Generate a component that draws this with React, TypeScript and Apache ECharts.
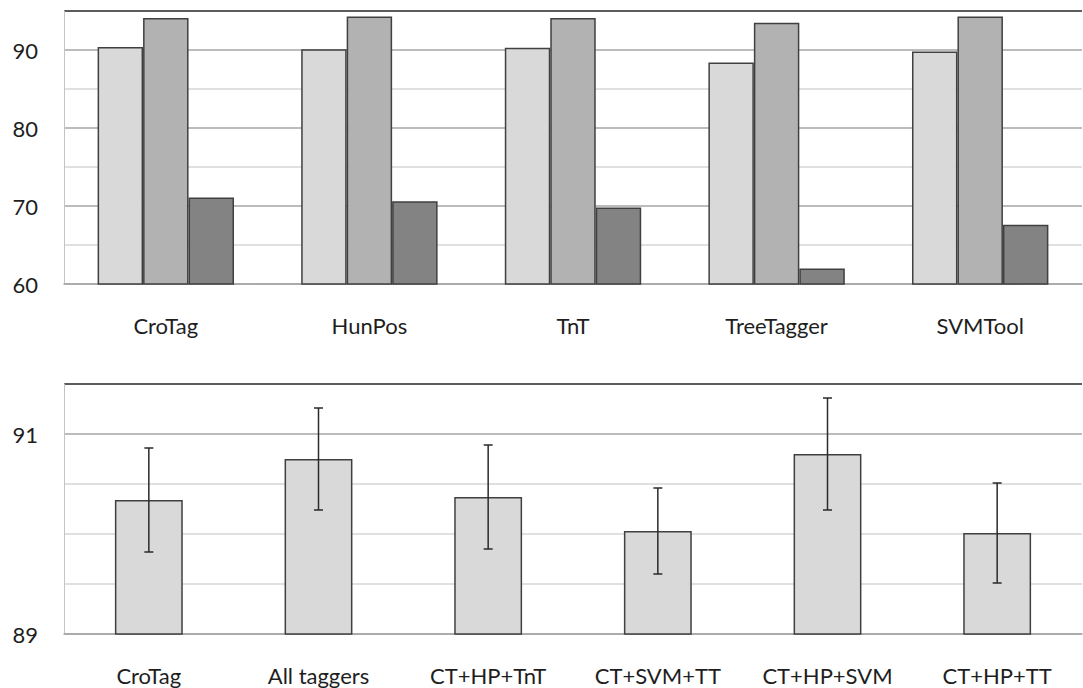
import React, { useEffect, useRef } from "react";
import * as echarts from "echarts";

const topCategories = ["CroTag", "HunPos", "TnT", "TreeTagger", "SVMTool"];
const topSeriesA = [90.4, 90.1, 90.3, 88.4, 89.8];
const topSeriesB = [94.1, 94.3, 94.1, 93.5, 94.3];
const topSeriesC = [71.1, 70.6, 69.8, 62.0, 67.6];
const topTickLabels = [60, 70, 80, 90];

const bottomCategories = ["CroTag", "All taggers", "CT+HP+TnT", "CT+SVM+TT", "CT+HP+SVM", "CT+HP+TT"];
const bottomValues = [90.34, 90.75, 90.37, 90.03, 90.8, 90.01];
const bottomErrors = [0.52, 0.51, 0.52, 0.43, 0.56, 0.5];
const bottomTickLabels = [89, 91];

const FONT = "Lato";
const TEXT = "#1e1e1e";
const MAJOR = "#a6a6a6";
const MINOR = "#d6d6d6";
const TOPLINE = "#262626";
const BORDER = "#404040";

export default function App() {
  const ref = useRef<HTMLDivElement>(null);
  useEffect(() => {
    if (!ref.current) return;
    const chart = echarts.init(ref.current, undefined, { renderer: "svg" });
    const errData = bottomValues.map((v, i) => [i, v - bottomErrors[i], v + bottomErrors[i]]);
    const barStyle = (color: string) => ({ color, borderColor: BORDER, borderWidth: 1.5 });
    chart.setOption({
      animation: false,
      backgroundColor: "#ffffff",
      grid: [
        { left: 64, right: 1, top: 11, height: 273 },
        { left: 64, right: 1, top: 384, height: 250 },
      ],
      xAxis: [
        {
          type: "category",
          gridIndex: 0,
          data: topCategories,
          axisTick: { show: false },
          axisLine: { lineStyle: { color: MAJOR, width: 1.5 } },
          axisLabel: { color: TEXT, fontFamily: FONT, fontSize: 22, margin: 30 },
        },
        {
          type: "category",
          gridIndex: 1,
          data: bottomCategories,
          axisTick: { show: false },
          axisLine: { lineStyle: { color: MAJOR, width: 1.5 } },
          axisLabel: { color: TEXT, fontFamily: FONT, fontSize: 22, margin: 30 },
        },
      ],
      yAxis: [
        {
          type: "value",
          gridIndex: 0,
          min: 60,
          max: 95,
          interval: 5,
          axisLine: { show: true, lineStyle: { color: "#c4c4c4", width: 1 } },
          axisTick: { show: false },
          axisLabel: {
            color: TEXT,
            fontFamily: FONT,
            fontSize: 22,
            margin: 26,
            formatter: (v: number) => (topTickLabels.includes(v) ? String(v) : ""),
          },
          splitLine: {
            show: true,
            lineStyle: {
              width: 1.5,
              color: [MAJOR, MINOR, MAJOR, MINOR, MAJOR, MINOR, MAJOR, TOPLINE],
            },
          },
        },
        {
          type: "value",
          gridIndex: 1,
          min: 89,
          max: 91.5,
          interval: 0.5,
          axisLine: { show: true, lineStyle: { color: "#c4c4c4", width: 1 } },
          axisTick: { show: false },
          axisLabel: {
            color: TEXT,
            fontFamily: FONT,
            fontSize: 22,
            margin: 26,
            formatter: (v: number) => (bottomTickLabels.includes(v) ? String(v) : ""),
          },
          splitLine: {
            show: true,
            lineStyle: {
              width: 1.5,
              color: [MAJOR, MINOR, MINOR, MINOR, MAJOR, TOPLINE],
            },
          },
        },
      ],
      series: [
        {
          type: "bar",
          name: "A",
          xAxisIndex: 0,
          yAxisIndex: 0,
          data: topSeriesA,
          barGap: "0%",
          barCategoryGap: "33%",
          itemStyle: barStyle("#d9d9d9"),
        },
        {
          type: "bar",
          name: "B",
          xAxisIndex: 0,
          yAxisIndex: 0,
          data: topSeriesB,
          barGap: "0%",
          barCategoryGap: "33%",
          itemStyle: barStyle("#b2b2b2"),
        },
        {
          type: "bar",
          name: "C",
          xAxisIndex: 0,
          yAxisIndex: 0,
          data: topSeriesC,
          barGap: "0%",
          barCategoryGap: "33%",
          itemStyle: barStyle("#828382"),
        },
        {
          type: "bar",
          name: "Accuracy",
          xAxisIndex: 1,
          yAxisIndex: 1,
          data: bottomValues,
          barCategoryGap: "60%",
          itemStyle: barStyle("#d9d9d9"),
        },
        {
          type: "custom",
          name: "Error",
          xAxisIndex: 1,
          yAxisIndex: 1,
          data: errData,
          encode: { x: 0, y: [1, 2] },
          z: 10,
          renderItem: (params: any, api: any) => {
            const x = api.value(0);
            const lo = api.coord([x, api.value(1)]);
            const hi = api.coord([x, api.value(2)]);
            const hw = 4.5;
            const style = { stroke: "#2a2a2a", lineWidth: 1.5 };
            return {
              type: "group",
              children: [
                { type: "line", shape: { x1: hi[0], y1: hi[1], x2: lo[0], y2: lo[1] }, style },
                { type: "line", shape: { x1: hi[0] - hw, y1: hi[1], x2: hi[0] + hw, y2: hi[1] }, style },
                { type: "line", shape: { x1: lo[0] - hw, y1: lo[1], x2: lo[0] + hw, y2: lo[1] }, style },
              ],
            };
          },
        },
      ],
    });
    return () => chart.dispose();
  }, []);
  return (
    <div
      ref={ref}
      style={{ position: "fixed", left: 0, top: 0, width: 1083, height: 688, background: "#fff" }}
    />
  );
}
